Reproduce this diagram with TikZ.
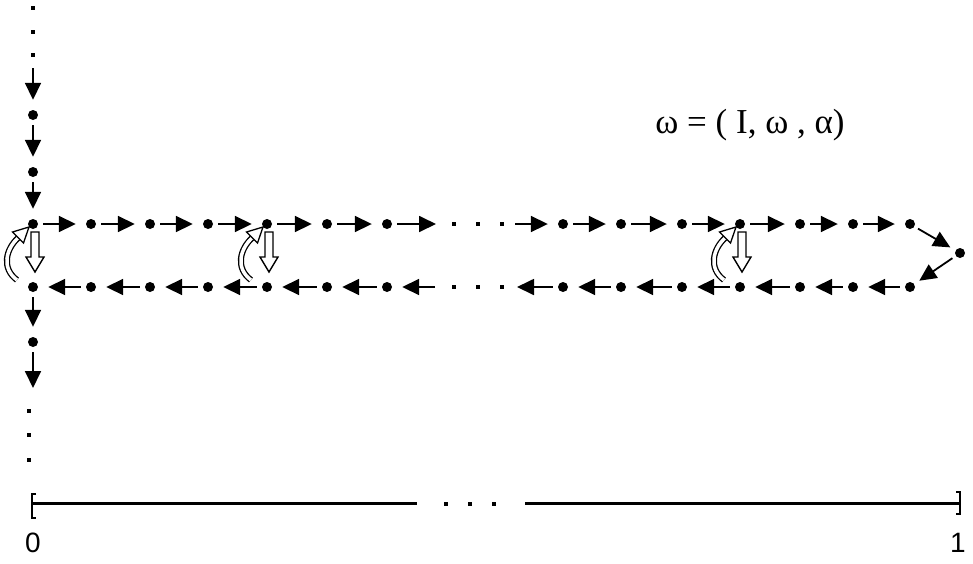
\documentclass[tikz,border=0pt]{standalone}
\usepackage{fontspec}
\setmainfont{Liberation Serif}
\newfontfamily\digitfont{Liberation Sans}
\usetikzlibrary{arrows.meta}
\begin{document}
\begin{tikzpicture}[x=1pt,y=-1pt,
  bigdot/.style={circle,fill=black,inner sep=0pt,minimum size=10pt},
  smalldot/.style={rectangle,fill=black,inner sep=0pt,minimum size=4pt},
  conn/.style={line width=1.8pt,-{Triangle[length=17pt,width=16pt]},shorten <=5pt,shorten >=10pt},
  hollow/.style={line width=1.4pt,fill=white,line join=miter},
  band/.style={double=white,double distance=3.5pt,line width=1.3pt},
  bandhead/.style={line width=1.3pt,fill=white,line join=miter},
  bar/.style={line width=3pt},
  brk/.style={line width=2.2pt},
  digit/.style={font=\digitfont\fontsize{28}{30}\selectfont,inner sep=0pt},
  formula/.style={font=\fontsize{35}{40}\selectfont,inner sep=0pt}]
\useasboundingbox (0,0) rectangle (973,563);

% row nodes
\foreach \x [count=\i] in {33,91,150,208,267,327,387,563,621,682,740,800,853,910}{
  \node[bigdot] (t\i) at (\x,224) {};
  \node[bigdot] (b\i) at (\x,287) {};
}
\node[bigdot] (r) at (960,253) {};

% row connectors
\foreach \i/\j in {1/2,2/3,3/4,4/5,5/6,6/7,8/9,9/10,10/11,11/12,12/13,13/14}{
  \draw[conn] (t\i) -- (t\j);
  \draw[conn] (b\j) -- (b\i);
}
\coordinate (tA) at (446,224);
\coordinate (tB) at (510,224);
\coordinate (bA) at (440,287);
\coordinate (bB) at (507,287);
\draw[conn] (t7) -- (tA);
\draw[conn] (tB) -- (t8);
\draw[conn] (bA) -- (b7);
\draw[conn] (b8) -- (bB);
\draw[conn,shorten <=4pt,shorten >=6pt] (t14) -- (r);
\draw[conn,shorten <=4pt,shorten >=6pt] (r) -- (b14);

% ellipsis dots in rows
\foreach \x [count=\k] in {454,478,502}{
  \node[smalldot] (te\k) at (\x,224) {};
  \node[smalldot] (be\k) at (\x,287) {};
}

% vertical column
\foreach \y [count=\k] in {8,32,55}{
  \node[smalldot] (ve\k) at (33,\y) {};
}
\coordinate (v0) at (33,63);
\node[bigdot] (v1) at (33,115) {};
\node[bigdot] (v2) at (33,172) {};
\draw[conn] (v0) -- (v1);
\draw[conn] (v1) -- (v2);
\draw[conn] (v2) -- (t1);
\node[bigdot] (w1) at (33,342) {};
\coordinate (w0) at (33,398);
\draw[conn] (b1) -- (w1);
\draw[conn] (w1) -- (w0);
\foreach \y [count=\k] in {411,435,460}{
  \node[smalldot] (we\k) at (29,\y) {};
}

% turning symbols
\foreach \c in {33,267,740}{
  \begin{scope}[shift={(\c,224)}]
    \draw[hollow] (-2,8) -- (6,8) -- (6,33) -- (11,33) -- (2,48) -- (-7,33) -- (-2,33) -- cycle;
    \draw[band] (-16,56) .. controls (-32,44) and (-27,25) .. (-15,14);
    \draw[bandhead] (-4,3) -- (-9.5,19) -- (-20.5,8) -- cycle;
  \end{scope}
}

% formula
\node[formula,anchor=base] (f) at (750,133) {ω = ( I, ω , α)};

% scale bar
\coordinate (s0) at (33,503);
\coordinate (s1) at (417,503);
\coordinate (s2) at (525,503);
\coordinate (s3) at (960,503);
\draw[bar] (s0) -- (s1);
\draw[bar] (s2) -- (s3);
\draw[brk] (36,494) -- (32,494) -- (32,518) -- (36,518);
\draw[brk] (956,492) -- (960,492) -- (960,514) -- (956,514);
\foreach \x [count=\k] in {446,470,494}{
  \node[smalldot] (se\k) at (\x,504) {};
}
\node[digit] (l0) at (33,543) {0};
\node[digit] (l1) at (958,543) {1};
\end{tikzpicture}
\end{document}
